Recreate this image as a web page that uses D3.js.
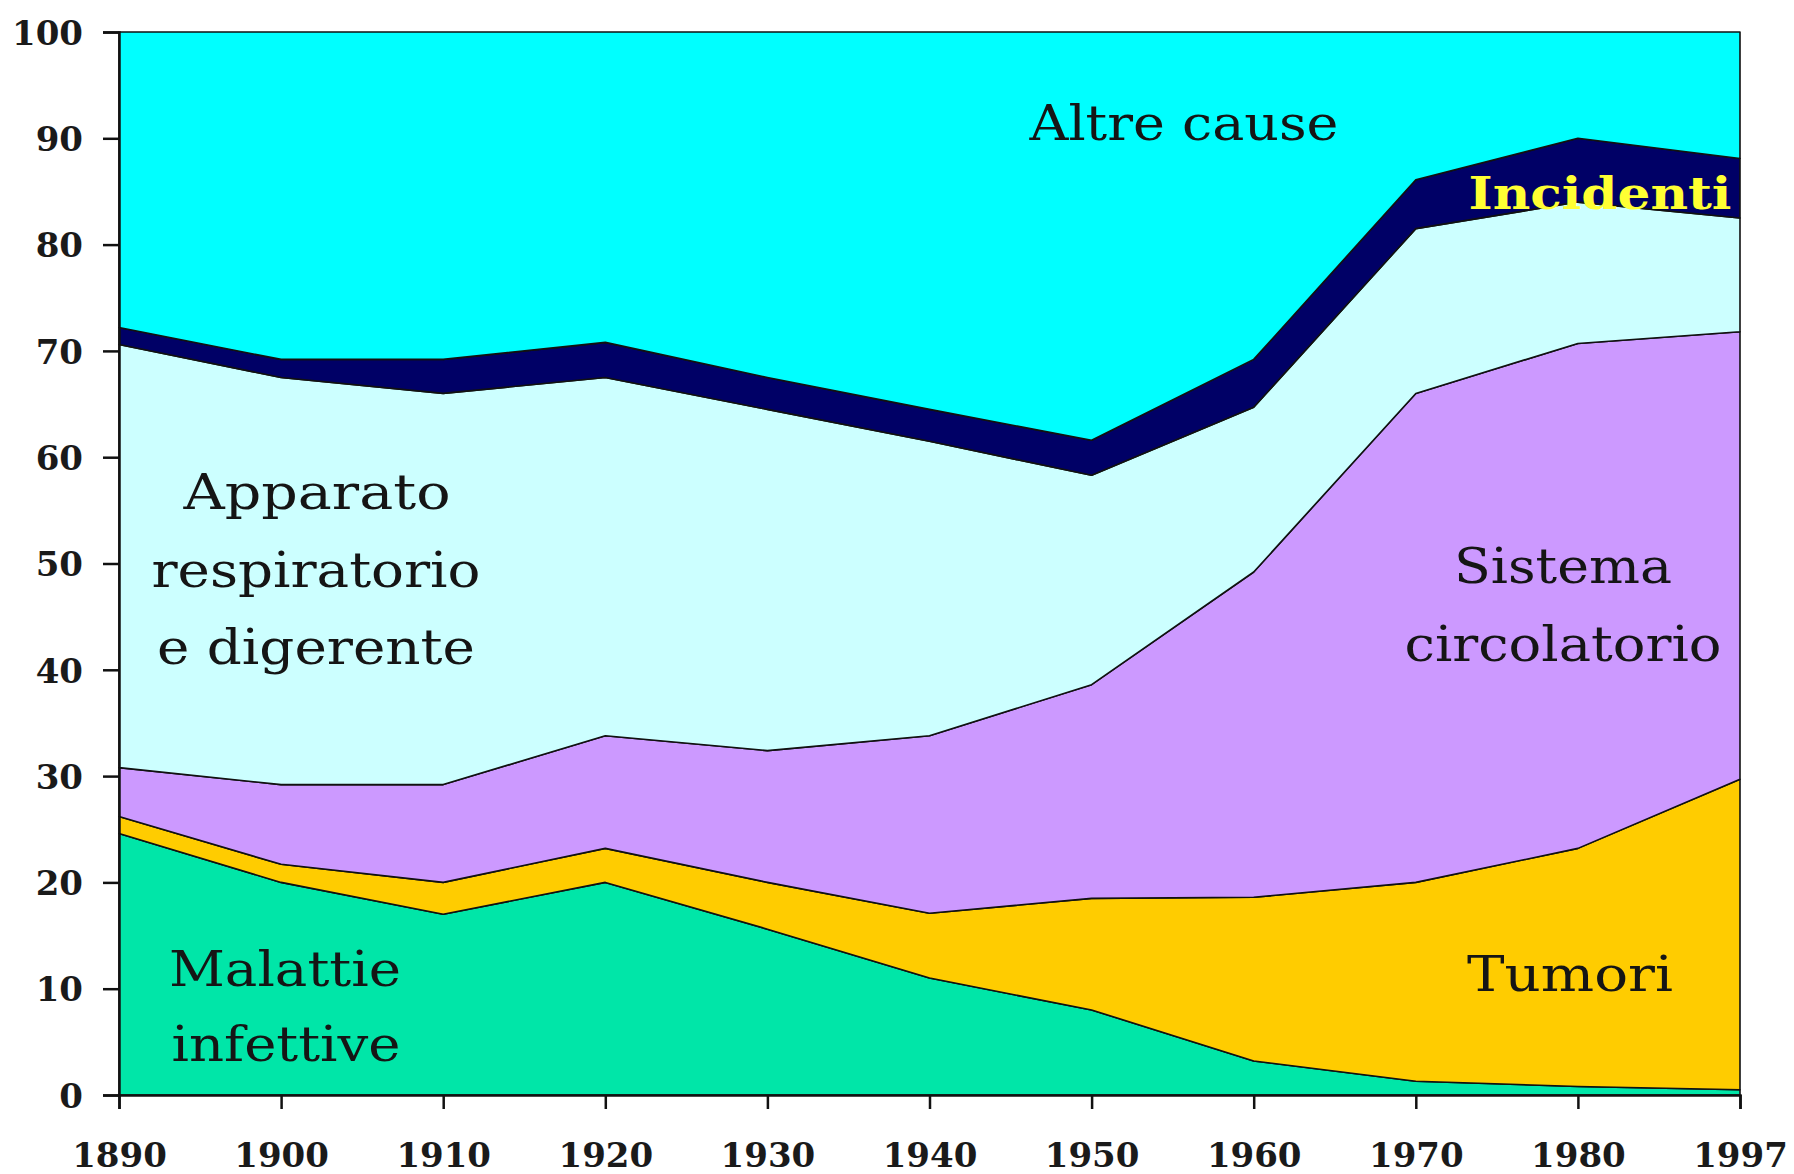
<!DOCTYPE html>
<html><head><meta charset="utf-8">
<script src="https://cdn.jsdelivr.net/npm/d3@7"></script>
<style>html,body{margin:0;padding:0;background:#fff;}svg{display:block;}</style>
</head><body>
<svg id="chart" width="1794" height="1174"></svg>
<script>
const years = ["1890","1900","1910","1920","1930","1940","1950","1960","1970","1980","1997"];
const infettive    = [24.6, 20.0, 17.0, 20.0, 15.6, 11.0,  8.0,  3.2,  1.3,  0.8,  0.5];
const tumori       = [ 1.6,  1.7,  3.0,  3.2,  4.4,  6.1, 10.5, 15.4, 18.7, 22.4, 29.2];
const circolatorio = [ 4.6,  7.5,  9.2, 10.6, 12.4, 16.7, 20.1, 30.6, 46.0, 47.5, 42.1];
const apparato     = [39.8, 38.3, 36.8, 33.7, 32.1, 27.7, 19.7, 15.5, 15.5, 13.3, 10.7];
const incidenti    = [ 1.6,  1.7,  3.2,  3.3,  3.0,  3.0,  3.3,  4.5,  4.6,  6.0,  5.6];
const altre        = [27.8, 30.8, 30.8, 29.2, 32.5, 35.5, 38.4, 30.8, 13.9, 10.0, 11.9];
const yTicks = [0,10,20,30,40,50,60,70,80,90,100];

const keys = ["infettive","tumori","circolatorio","apparato","incidenti","altre"];
const colors = {infettive:"#00E6A8", tumori:"#FFCC00", circolatorio:"#CC99FF",
                apparato:"#CCFFFF", incidenti:"#000066", altre:"#00FFFF"};
const series = {infettive, tumori, circolatorio, apparato, incidenti, altre};
const table = years.map((yr,i)=>{const o={year:yr}; keys.forEach(k=>o[k]=series[k][i]); return o;});

const svg = d3.select("#chart");
const L=119, R=1740, T=32, B=1095;
const x = d3.scalePoint().domain(years).range([L,R]);
const y = d3.scaleLinear().domain([0,100]).range([B,T]);

const stacked = d3.stack().keys(keys)(table);
const area = d3.area().x(d=>x(d.data.year)).y0(d=>y(d[0])).y1(d=>y(d[1]));

svg.append("g").selectAll("path").data(stacked).join("path")
  .attr("d", area)
  .attr("fill", d=>colors[d.key])
  .attr("stroke", "#111")
  .attr("stroke-width", 1.6)
  .attr("stroke-linejoin","round");

// axes
const yAxis = d3.axisLeft(y).tickValues(yTicks).tickSize(16).tickPadding(20).tickFormat(d3.format("d"));
const gy = svg.append("g").attr("transform",`translate(${L},0)`).call(yAxis);
const xAxis = d3.axisBottom(x).tickSize(14).tickPadding(38);
const gx = svg.append("g").attr("transform",`translate(0,${B})`).call(xAxis);
[gy,gx].forEach(g=>{
  g.select(".domain").attr("stroke","#111").attr("stroke-width",2.5);
  g.selectAll(".tick line").attr("stroke","#111").attr("stroke-width",2.5);
  g.selectAll(".tick text").attr("fill","#1a1a1a")
    .style("font-family","'DejaVu Serif', serif").style("font-weight","bold").style("font-size","34px");
});
gy.selectAll(".tick text").attr("dy","0.36em");
gx.selectAll(".tick text").attr("dy","0.6em");

// labels
const labels = [
  {t:"Altre cause", x:1184, y:140, w:309},
  {t:"Apparato", x:317, y:509, w:267},
  {t:"respiratorio", x:316, y:587, w:329},
  {t:"e digerente", x:316, y:664, w:318},
  {t:"Sistema", x:1563, y:583, w:218},
  {t:"circolatorio", x:1563, y:661, w:317},
  {t:"Tumori", x:1570, y:991, w:206},
  {t:"Malattie", x:285, y:986, w:232},
  {t:"infettive", x:286, y:1061, w:229}
];
svg.append("g").selectAll("text").data(labels).join("text")
  .attr("x",d=>d.x).attr("y",d=>d.y).attr("text-anchor","middle")
  .attr("textLength",d=>d.w).attr("lengthAdjust","spacingAndGlyphs")
  .style("font-family","'DejaVu Serif', serif").style("font-size","48px").attr("fill","#151515")
  .text(d=>d.t);

svg.append("text").attr("x",1600).attr("y",209).attr("text-anchor","middle")
  .attr("textLength",263).attr("lengthAdjust","spacingAndGlyphs")
  .style("font-family","'DejaVu Serif', serif").style("font-size","44px").style("font-weight","bold")
  .attr("fill","#FFFF33").text("Incidenti");
</script>
</body></html>
